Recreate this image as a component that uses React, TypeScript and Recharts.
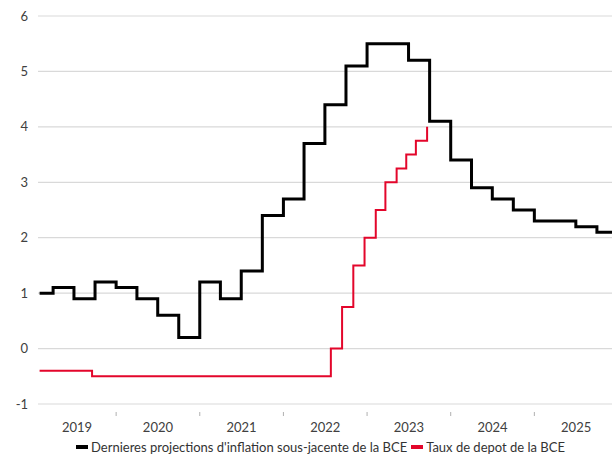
import React from "react";
import { LineChart, Line, XAxis, YAxis, CartesianGrid, Legend } from "recharts";

// Dernières projections d'inflation sous-jacente (BCE) — trimestriel
const coreDates = [
  "2019-02-01", "2019-04-01", "2019-07-01", "2019-10-01",
  "2020-01-01", "2020-04-01", "2020-07-01", "2020-10-01",
  "2021-01-01", "2021-04-01", "2021-07-01", "2021-10-01",
  "2022-01-01", "2022-04-01", "2022-07-01", "2022-10-01",
  "2023-01-01", "2023-04-01", "2023-07-01", "2023-10-01",
  "2024-01-01", "2024-04-01", "2024-07-01", "2024-10-01",
  "2025-01-01", "2025-04-01", "2025-07-01", "2025-10-01",
  "2025-12-31",
];
const coreValues = [
  1.0, 1.1, 0.9, 1.2,
  1.1, 0.9, 0.6, 0.2,
  1.2, 0.9, 1.4, 2.4,
  2.7, 3.7, 4.4, 5.1,
  5.5, 5.5, 5.2, 4.1,
  3.4, 2.9, 2.7, 2.5,
  2.3, 2.3, 2.2, 2.1,
  2.1,
];

// Taux de dépôt de la BCE — dates de changement
const depoDates = [
  "2019-02-01", "2019-09-18", "2022-07-27", "2022-09-14", "2022-11-02",
  "2022-12-21", "2023-02-08", "2023-03-22", "2023-05-10", "2023-06-21",
  "2023-08-02", "2023-09-20",
];
const depoValues = [-0.4, -0.5, 0, 0.75, 1.5, 2.0, 2.5, 3.0, 3.25, 3.5, 3.75, 4.0];

const years = [2019, 2020, 2021, 2022, 2023, 2024, 2025];
const yTicks = [-1, 0, 1, 2, 3, 4, 5, 6];

const CORE_NAME = "Dernieres projections d'inflation sous-jacente de la BCE";
const DEPO_NAME = "Taux de depot de la BCE";
const BLACK = "#000000";
const RED = "#e3062b";
const FONT = "Lato, 'Open Sans', sans-serif";

const X_MIN = 2019.066;
const X_MAX = 2026;

// date "YYYY-MM-DD" -> fractional year
function toYear(s: string): number {
  const [y, m, d] = s.split("-").map(Number);
  const start = Date.UTC(y, 0, 1);
  const end = Date.UTC(y + 1, 0, 1);
  return y + (Date.UTC(y, m - 1, d) - start) / (end - start);
}

const coreData = coreDates.map((d, i) => ({ t: toYear(d), core: coreValues[i] }));
const depoData = depoDates.map((d, i) => ({ t: toYear(d), depo: depoValues[i] }));

// tick marks on year boundaries, labels centred on the visible part of each year
const boundaryTicks = years.slice(1);
const labelPos = years.map((y) => (Math.max(y, X_MIN) + Math.min(y + 1, X_MAX)) / 2);
const xTicks = [...boundaryTicks, ...labelPos].sort((a, b) => a - b);

const XTick = (props: any) => {
  const { x, y, payload } = props;
  const v = payload.value;
  if (boundaryTicks.includes(v)) {
    return <line x1={x} x2={x} y1={y} y2={y + 4} stroke="#b0b0b0" strokeWidth={1} />;
  }
  const idx = labelPos.indexOf(v);
  return (
    <text x={x} y={y + 11} dy="0.71em" textAnchor="middle" fontSize={13} fontFamily={FONT} fill="#404040">
      {years[idx]}
    </text>
  );
};

const renderLegend = () => (
  <div
    style={{
      display: "flex",
      alignItems: "center",
      height: 18,
      fontFamily: FONT,
      fontSize: 13,
      color: "#333",
      whiteSpace: "nowrap",
    }}
  >
    {[
      { name: CORE_NAME, color: BLACK },
      { name: DEPO_NAME, color: RED },
    ].map((s) => (
      <span key={s.name} style={{ display: "inline-flex", alignItems: "center", marginRight: 4 }}>
        <span style={{ display: "inline-block", width: 12, height: 4, background: s.color, marginRight: 3 }} />
        {s.name}
      </span>
    ))}
  </div>
);

export default function App() {
  return (
    <div style={{ position: "absolute", left: 0, top: 0, width: 612, height: 456, overflow: "hidden", background: "#fff" }}>
      <LineChart width={618} height={456} margin={{ top: 16, right: 0, left: 0, bottom: 0 }}>
        <CartesianGrid vertical={false} stroke="#d9d9d9" strokeWidth={1.2} />
        <XAxis
          type="number"
          dataKey="t"
          domain={[X_MIN, X_MAX]}
          allowDataOverflow
          ticks={xTicks}
          interval={0}
          tick={<XTick />}
          tickLine={false}
          axisLine={false}
          height={34}
        />
        <YAxis
          domain={[-1, 6]}
          ticks={yTicks}
          tickLine={false}
          axisLine={false}
          width={38}
          tickMargin={4}
          tick={{ fontSize: 13, fontFamily: FONT, fill: "#404040" }}
        />
        <Legend
          content={renderLegend}
          verticalAlign="bottom"
          wrapperStyle={{ left: 76, top: 438, width: "auto", height: 18 }}
        />
        <Line
          data={coreData}
          dataKey="core"
          name={CORE_NAME}
          type="stepAfter"
          stroke={BLACK}
          strokeWidth={3}
          dot={false}
          isAnimationActive={false}
        />
        <Line
          data={depoData}
          dataKey="depo"
          name={DEPO_NAME}
          type="stepAfter"
          stroke={RED}
          strokeWidth={2}
          dot={false}
          isAnimationActive={false}
        />
      </LineChart>
    </div>
  );
}
